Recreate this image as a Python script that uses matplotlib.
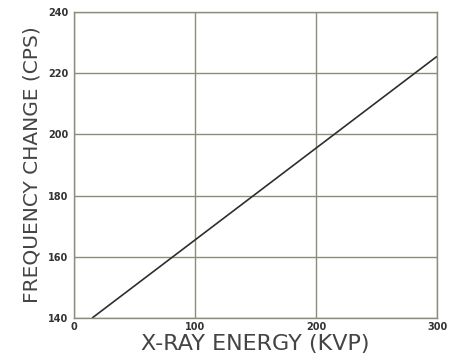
import matplotlib
matplotlib.use("Agg")
import matplotlib.pyplot as plt

# line
energy_kvp = [15, 100, 200, 300]
freq_change = [140, 165.5, 195.5, 225.5]

x_ticks = [0, 100, 200, 300]
y_ticks = [140, 160, 180, 200, 220, 240]

GRID = "#8c8c7a"
INK = "#2e2e2a"

fig = plt.figure(figsize=(4.6, 3.56), dpi=100)
ax = fig.add_axes([74 / 460, 1 - 318 / 356, 363 / 460, 306 / 356])

ax.plot(energy_kvp, freq_change, color=INK, lw=1.2, solid_capstyle="butt")
ax.set_xlim(0, 300); ax.set_ylim(140, 240)
ax.set_xticks(x_ticks); ax.set_yticks(y_ticks)
ax.set_xticklabels([str(v) for v in x_ticks], fontsize=7, fontweight="bold", color="#333")
ax.set_yticklabels([str(v) for v in y_ticks], fontsize=7, fontweight="bold", color="#333")
ax.tick_params(axis="x", length=0, pad=3)
ax.tick_params(axis="y", length=0, pad=4)
ax.grid(True, color=GRID, lw=1.0)
for s in ax.spines.values():
    s.set_color(GRID); s.set_linewidth(1.0)

ax.set_xlabel("X-RAY ENERGY (KVP)", fontsize=16, color="#444", labelpad=1)
ax.set_ylabel("FREQUENCY CHANGE (CPS)", fontsize=14.5, color="#444", labelpad=5)

fig.savefig("out.png", dpi=100)
